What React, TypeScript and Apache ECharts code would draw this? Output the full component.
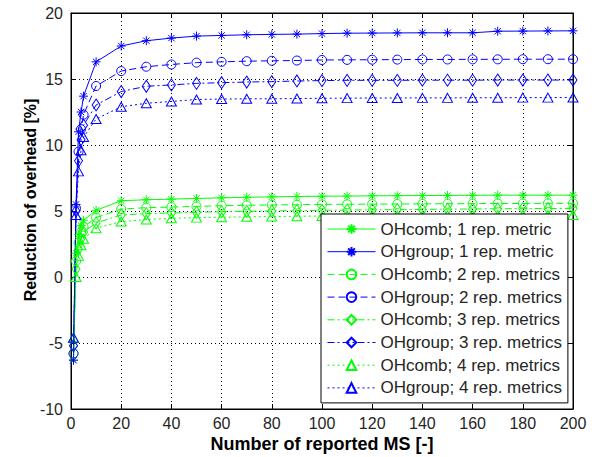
import React, { useEffect, useRef } from 'react';
import * as echarts from 'echarts';

const xValues = [1, 2, 3, 4, 5, 10, 20, 30, 40, 50, 60, 70, 80, 90, 100, 110, 120, 130, 140, 150, 160, 170, 180, 190, 200];

const comb1 = [-6.3, 1.8, 3.2, 3.9, 4.3, 5.05, 5.78, 5.85, 5.9, 5.95, 6.0, 6.04, 6.07, 6.1, 6.12, 6.13, 6.15, 6.16, 6.17, 6.18, 6.19, 6.2, 6.2, 6.2, 6.2];
const group1 = [-6.3, 5.5, 11.0, 12.5, 13.7, 16.3, 17.5, 17.9, 18.1, 18.25, 18.3, 18.35, 18.38, 18.4, 18.44, 18.47, 18.48, 18.49, 18.5, 18.5, 18.5, 18.62, 18.63, 18.64, 18.65];
const comb2 = [-5.8, 1.2, 2.6, 3.4, 3.8, 4.5, 5.15, 5.25, 5.3, 5.35, 5.4, 5.43, 5.46, 5.48, 5.5, 5.51, 5.52, 5.53, 5.54, 5.55, 5.56, 5.57, 5.57, 5.58, 5.58];
const group2 = [-5.8, 5.2, 9.5, 11.2, 12.3, 14.47, 15.6, 15.93, 16.1, 16.24, 16.3, 16.35, 16.38, 16.4, 16.44, 16.45, 16.46, 16.47, 16.48, 16.48, 16.49, 16.49, 16.5, 16.5, 16.5];
const comb3 = [-5.2, 0.6, 2.1, 2.9, 3.4, 4.1, 4.7, 4.8, 4.85, 4.9, 4.95, 4.98, 5.0, 5.03, 5.05, 5.07, 5.09, 5.1, 5.12, 5.14, 5.15, 5.17, 5.18, 5.19, 5.2];
const group3 = [-5.2, 5.0, 8.8, 10.4, 11.5, 13.03, 14.05, 14.45, 14.55, 14.67, 14.72, 14.77, 14.8, 14.85, 14.88, 14.9, 14.9, 14.9, 14.91, 14.91, 14.91, 14.92, 14.92, 14.92, 14.92];
const comb4 = [-4.6, 0.0, 1.6, 2.4, 2.9, 3.7, 4.2, 4.35, 4.45, 4.5, 4.53, 4.56, 4.58, 4.6, 4.62, 4.63, 4.64, 4.65, 4.66, 4.67, 4.68, 4.68, 4.69, 4.7, 4.7];
const group4 = [-4.6, 4.7, 8.0, 9.6, 10.6, 11.97, 12.9, 13.16, 13.3, 13.45, 13.48, 13.5, 13.5, 13.52, 13.54, 13.55, 13.56, 13.56, 13.57, 13.57, 13.58, 13.58, 13.59, 13.59, 13.6];

const seriesNames = [
  'OHcomb; 1 rep. metric',
  'OHgroup; 1 rep. metric',
  'OHcomb; 2 rep. metrics',
  'OHgroup; 2 rep. metrics',
  'OHcomb; 3 rep. metrics',
  'OHgroup; 3 rep. metrics',
  'OHcomb; 4 rep. metrics',
  'OHgroup; 4 rep. metrics',
];
const seriesValues = [comb1, group1, comb2, group2, comb3, group3, comb4, group4];

const xTitle = 'Number of reported MS [-]';
const yTitle = 'Reduction of overhead [%]';

const GREEN = '#00ff00';
const BLUE = '#0000ff';
const FONT = 'Arial, "Liberation Sans", Helvetica, sans-serif';
const STAR = 'path://M0,-10L0,10M-10,0L10,0M-7,-7L7,7M-7,7L7,-7';

const styles: any[] = [
  { symbol: STAR, size: 9, dash: 'solid' },
  { symbol: 'circle', size: 9, dash: [7, 4] },
  { symbol: 'diamond', size: [8, 12], dash: [7, 3, 2, 3] },
  { symbol: 'triangle', size: [10, 9], dash: [2, 3] },
];

export default function App() {
  const ref = useRef<HTMLDivElement>(null);
  useEffect(() => {
    if (!ref.current) return;
    const chart = echarts.init(ref.current, undefined, { renderer: 'svg' });
    const series = seriesNames.map((name, i) => {
      const color = i % 2 === 0 ? GREEN : BLUE;
      const st = styles[Math.floor(i / 2)];
      return {
        name,
        type: 'line',
        data: xValues.map((x, k) => [x, seriesValues[i][k]]),
        symbol: st.symbol,
        symbolSize: st.size,
        showAllSymbol: true,
        lineStyle: { color, width: 1, type: st.dash },
        itemStyle: { color: 'rgba(0,0,0,0)', borderColor: color, borderWidth: 1 },
        emphasis: { disabled: true },
      };
    });
    const axisCommon = {
      axisLine: { show: true, onZero: false, lineStyle: { color: '#000', width: 1 } },
      axisTick: { show: true, inside: true, length: 5, lineStyle: { color: '#000' } },
    };
    chart.setOption({
      animation: false,
      backgroundColor: '#fff',
      grid: { left: 71, top: 13, width: 502, height: 396, show: true, borderColor: '#000', borderWidth: 1, backgroundColor: 'transparent' },
      xAxis: [
        {
          type: 'value', min: 0, max: 200, interval: 20, position: 'bottom',
          ...axisCommon,
          axisLabel: { color: '#262626', fontSize: 16, fontFamily: FONT, margin: 6 },
          splitLine: { show: true, lineStyle: { color: '#000', type: [1, 3], width: 1 } },
        },
        {
          type: 'value', min: 0, max: 200, interval: 20, position: 'top',
          ...axisCommon,
          axisLabel: { show: false },
          splitLine: { show: false },
        },
      ],
      yAxis: [
        {
          type: 'value', min: -10, max: 20, interval: 5, position: 'left',
          ...axisCommon,
          axisLabel: { color: '#262626', fontSize: 16, fontFamily: FONT, margin: 8 },
          splitLine: { show: true, lineStyle: { color: '#000', type: [1, 3], width: 1 } },
        },
        {
          type: 'value', min: -10, max: 20, interval: 5, position: 'right',
          ...axisCommon,
          axisLabel: { show: false },
          splitLine: { show: false },
        },
      ],
      legend: {
        orient: 'vertical',
        left: 321,
        top: 214,
        data: seriesNames,
        backgroundColor: '#fff',
        borderColor: '#000',
        borderWidth: 1,
        borderRadius: 0,
        padding: [4, 6, 4, 6],
        itemWidth: 48,
        itemHeight: 12,
        itemGap: 0.7,
        selectedMode: false,
        lineStyle: { width: 1 },
        textStyle: { color: '#262626', fontSize: 17, fontFamily: FONT, lineHeight: 22 },
      },
      graphic: [
        {
          type: 'text', x: 322, y: 444,
          style: { text: xTitle, font: `bold 18px ${FONT}`, fill: '#000', align: 'center', verticalAlign: 'middle' },
        },
        {
          type: 'text', x: 30, y: 200, rotation: Math.PI / 2,
          style: { text: yTitle, font: `bold 16px ${FONT}`, fill: '#000', align: 'center', verticalAlign: 'middle' },
        },
      ],
      series,
    });
    return () => chart.dispose();
  }, []);
  return <div ref={ref} style={{ position: 'fixed', left: 0, top: 0, width: 602, height: 457, background: '#fff' }} />;
}
